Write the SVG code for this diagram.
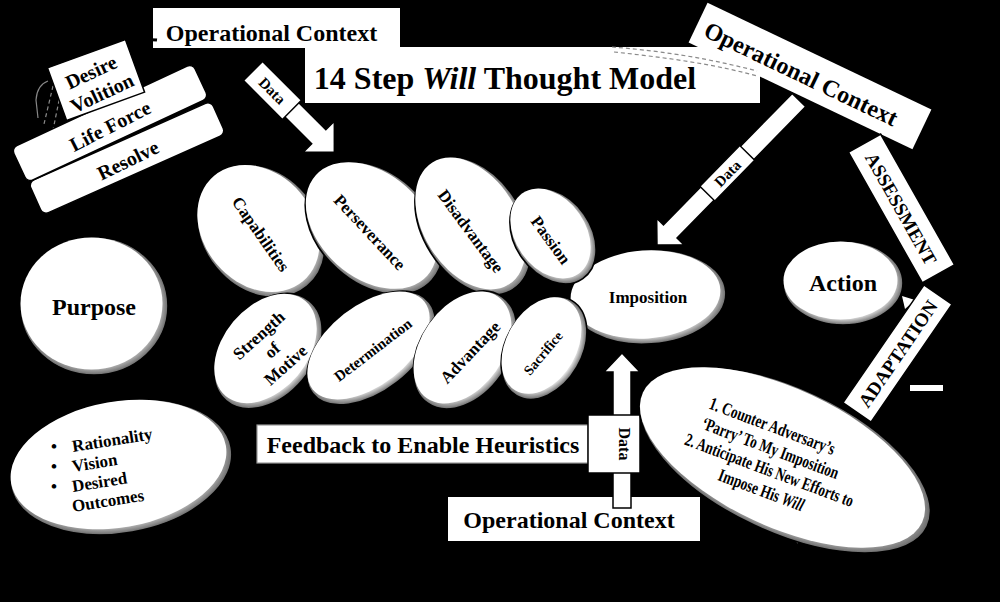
<svg xmlns="http://www.w3.org/2000/svg" width="1000" height="602" viewBox="0 0 1000 602">
<defs>
<radialGradient id="g" cx="50%" cy="50%" r="50%">
<stop offset="0" stop-color="#fff"/><stop offset="0.8" stop-color="#fff"/><stop offset="1" stop-color="#6a6a6a"/>
</radialGradient>
<style>
.eo{fill:url(#g);stroke:#000;stroke-width:1.6}
.ei{fill:#fff}
.bx{fill:#fff;stroke:#000;stroke-width:1.5}
.wb{fill:#fff}
.ar{fill:#fff;stroke:#000;stroke-width:1.5;stroke-linejoin:miter}
.dash{fill:none;stroke:#8a8a8a;stroke-width:1.2;stroke-dasharray:4 3}
text{font-family:"Liberation Serif","Times New Roman",serif;font-weight:bold;fill:#000;text-anchor:middle}
.f24{font-size:24px}.f20{font-size:20px}.f19{font-size:19px}.f18{font-size:18px}.f17{font-size:17px}.f16{font-size:16px}.f15{font-size:15px}.f14{font-size:14px}
</style>
</defs>
<rect x="0" y="0" width="1000" height="602" fill="#000"/>

<g id="op-context-top">
<rect class="wb" x="153" y="8" width="247" height="40"/>
<text class="f24" x="271.5" y="41">Operational Context</text>
</g>
<g id="title">
<rect class="wb" x="305" y="47" width="455" height="56"/>
<text x="505" y="89" style="font-size:32px"><tspan>14 Step </tspan><tspan font-style="italic">Will</tspan><tspan> Thought Model</tspan></text>
</g>
<g id="op-context-right">
<rect class="wb" transform="translate(810,76) rotate(25.5)" x="-124" y="-22" width="248" height="44"/>
<text class="f24" transform="translate(801,74) rotate(25.5)" y="8">Operational Context</text>
</g>
<g id="op-context-bottom">
<rect class="wb" x="448" y="497" width="252" height="44"/>
<text class="f24" x="569" y="528">Operational Context</text>
</g>
<g id="feedback">
<rect x="257" y="425" width="331" height="38" fill="#fff" stroke="#999" stroke-width="1.2"/>
<text class="f24" x="423" y="453">Feedback to Enable Heuristics</text>
</g>

<g id="connectors">
<path class="dash" d="M612,47 C650,50 700,56 757,71"/>
<path class="dash" d="M614,52 C660,57 710,63 757,76"/>
<path class="dash" d="M44,255 Q28,272 22,302"/>
<path class="dash" d="M14,462 C12,492 20,512 42,521 L146,524"/>
<path class="dash" d="M22,468 L24,508"/>
<path class="dash" d="M797,543 Q806,532 820,532 L865,537 Q890,540 910,543"/>
<path class="dash" d="M820,548 Q842,542 867,543"/>
<path class="dash" d="M53,86 L44,124"/>
<path class="dash" d="M62,86 L53,130"/>
<path d="M48,81 Q37,85 36,100 L38,118" fill="none" stroke="#888" stroke-width="1.2"/>
<path d="M128,47 Q140,38 157,40" fill="none" stroke="#000" stroke-width="3"/>
<g id="arrow-data-top" transform="translate(253,71) rotate(45)">
<path class="ar" d="M0,-10 L93,-10 L93,-22 L115,0 L93,22 L93,10 L0,10 Z"/>
<rect class="bx" x="0" y="-13.5" width="55" height="27"/>
<text class="f15" x="27.5" y="5.5">Data</text>
</g>
<g id="arrow-data-right" transform="translate(799,100) rotate(134.4)">
<path class="ar" d="M0,-9.5 L184,-9.5 L184,-19 L203,0 L184,19 L184,9.5 L0,9.5 Z"/>
<rect class="bx" x="74" y="-10.5" width="57" height="21"/>
<text class="f15" transform="translate(102.5,0) rotate(180)" y="5.5">Data</text>
</g>
<g id="arrow-data-bottom">
<path class="ar" d="M613,508 L613,372 L604,372 L622,353 L640,372 L631,372 L631,508 Z"/>
<rect class="bx" x="588" y="415" width="52" height="58"/>
<text class="f16" transform="translate(624,444) rotate(90)" y="5.5">Data</text>
</g>
<polygon points="902,296 915,300 905,309" fill="#fff"/>
<rect x="910" y="385" width="33" height="6" fill="#fff"/>
</g>

<g id="resolve">
<rect class="bx" transform="translate(127,158) rotate(-24)" x="-100" y="-18" width="200" height="36" rx="6"/>
<text class="f20" transform="translate(128,160) rotate(-26)" y="7">Resolve</text>
</g>
<g id="life-force">
<rect class="bx" transform="translate(110,123) rotate(-25)" x="-100" y="-19" width="200" height="38" rx="6"/>
<text class="f20" transform="translate(110,126) rotate(-27)" y="7">Life Force</text>
</g>
<g id="desire-volition">
<rect class="bx" transform="translate(96,80) rotate(-20)" x="-41.5" y="-28" width="83" height="56"/>
<text class="f20" transform="translate(91,72) rotate(-25)" y="7">Desire</text>
<text class="f20" transform="translate(102,93) rotate(-25)" y="7">Volition</text>
</g>

<g id="purpose" transform="translate(94,306)">
<ellipse class="eo" rx="74" ry="69"/>
<ellipse class="ei" rx="71" ry="66" transform="translate(-2.5,-2.5)"/>
<text class="f24" y="9">Purpose</text>
</g>
<g id="rationality" transform="translate(121,467)">
<ellipse class="eo" rx="112" ry="66" transform="rotate(-10)"/>
<ellipse class="ei" rx="109" ry="63" transform="translate(-2.5,-2.5) rotate(-10)"/>
</g>
<g id="rationality-text">
<text class="f17" x="51" y="452" style="text-anchor:start">•</text>
<text class="f17" x="51" y="472" style="text-anchor:start">•</text>
<text class="f17" x="51" y="492" style="text-anchor:start">•</text>
<text class="f17" transform="translate(73,452) rotate(-9)" style="text-anchor:start">Rationality</text>
<text class="f17" transform="translate(73,472) rotate(-9)" style="text-anchor:start">Vision</text>
<text class="f17" transform="translate(73,492) rotate(-9)" style="text-anchor:start">Desired</text>
<text class="f17" transform="translate(73,512) rotate(-9)" style="text-anchor:start">Outcomes</text>
</g>

<g id="imposition" transform="translate(648,297)">
<ellipse class="eo" rx="78" ry="47" transform="rotate(-4)"/>
<ellipse class="ei" rx="75" ry="44" transform="translate(-2.5,-2.5) rotate(-4)"/>
<text class="f17" y="6">Imposition</text>
</g>
<g id="action" transform="translate(843,283)">
<ellipse class="eo" rx="60" ry="42"/>
<ellipse class="ei" rx="57" ry="39" transform="translate(-2.5,-2.5)"/>
<text class="f24" y="8">Action</text>
</g>
<g id="counter" transform="translate(785,460)">
<ellipse class="eo" rx="157" ry="72" transform="rotate(25)"/>
<ellipse class="ei" rx="154" ry="69" transform="translate(-2.5,-2.5) rotate(25)"/>
</g>
<g id="counter-text">
<text class="f18" transform="translate(772,427) rotate(20.6)" y="5" textLength="133" lengthAdjust="spacingAndGlyphs">1. Counter Adversary’s</text>
<text class="f18" transform="translate(770,449) rotate(20.6)" y="5" textLength="145" lengthAdjust="spacingAndGlyphs">‘Parry’ To My Imposition</text>
<text class="f18" transform="translate(769,471) rotate(20.6)" y="5" textLength="179" lengthAdjust="spacingAndGlyphs">2. Anticipate His New Efforts to</text>
<text class="f18" transform="translate(761,491) rotate(20.6)" y="5" textLength="90" lengthAdjust="spacingAndGlyphs">Impose His <tspan font-style="italic">Will</tspan></text>
</g>

<g id="capabilities" transform="translate(261,231)">
<ellipse class="eo" rx="72" ry="58" transform="rotate(50)"/>
<ellipse class="ei" rx="69" ry="55" transform="translate(-2.5,-2.5) rotate(50)"/>
<text class="f17" transform="translate(0,3) rotate(55)" y="6">Capabilities</text>
</g>
<g id="perseverance" transform="translate(374,228)">
<ellipse class="eo" rx="78" ry="55" transform="rotate(42)"/>
<ellipse class="ei" rx="75" ry="52" transform="translate(-2.5,-2.5) rotate(42)"/>
<text class="f17" transform="translate(-4,4) rotate(47)" y="6">Perseverance</text>
</g>
<g id="disadvantage" transform="translate(473,226)">
<ellipse class="eo" rx="75" ry="50" transform="rotate(58)"/>
<ellipse class="ei" rx="72" ry="47" transform="translate(-2.5,-2.5) rotate(58)"/>
<text class="f17" transform="translate(-2,5) rotate(53.5)" y="6">Disadvantage</text>
</g>
<g id="passion" transform="translate(553,236)">
<ellipse class="eo" rx="52" ry="38" transform="rotate(55)"/>
<ellipse class="ei" rx="49" ry="35" transform="translate(-2.5,-2.5) rotate(55)"/>
<text class="f17" transform="translate(-2,4) rotate(54)" y="6">Passion</text>
</g>
<g id="strength-of-motive" transform="translate(268,351)">
<ellipse class="eo" rx="65" ry="45" transform="rotate(-50)"/>
<ellipse class="ei" rx="62" ry="42" transform="translate(-2.5,-2.5) rotate(-50)"/>
<g transform="translate(4,-1) rotate(-42)">
<text class="f17" y="-14">Strength</text>
<text class="f17" y="6">of</text>
<text class="f17" y="26">Motive</text>
</g>
</g>
<g id="determination" transform="translate(371,348)">
<ellipse class="eo" rx="74" ry="43" transform="rotate(-38)"/>
<ellipse class="ei" rx="71" ry="40" transform="translate(-2.5,-2.5) rotate(-38)"/>
<text class="f15" transform="translate(2,2) rotate(-37.5)" y="5">Determination</text>
</g>
<g id="advantage" transform="translate(465,350)">
<ellipse class="eo" rx="65" ry="44" transform="rotate(-55)"/>
<ellipse class="ei" rx="62" ry="41" transform="translate(-2.5,-2.5) rotate(-55)"/>
<text class="f17" transform="translate(5,2) rotate(-46.5)" y="6">Advantage</text>
</g>
<g id="sacrifice" transform="translate(544,348)">
<ellipse class="eo" rx="55" ry="38" transform="rotate(-60)"/>
<ellipse class="ei" rx="52" ry="35" transform="translate(-2.5,-2.5) rotate(-60)"/>
<text class="f14" transform="translate(-1,5) rotate(-50)" y="5">Sacrifice</text>
</g>

<g id="assessment" transform="translate(901.5,208.5) rotate(60.5)">
<rect class="bx" x="-75" y="-18.5" width="150" height="37"/>
<text class="f19" y="7">ASSESSMENT</text>
</g>
<g id="adaptation" transform="translate(897.5,353.5) rotate(-55.5)">
<rect class="bx" x="-71.5" y="-17" width="143" height="34"/>
<text class="f19" y="7">ADAPTATION</text>
</g>
</svg>
